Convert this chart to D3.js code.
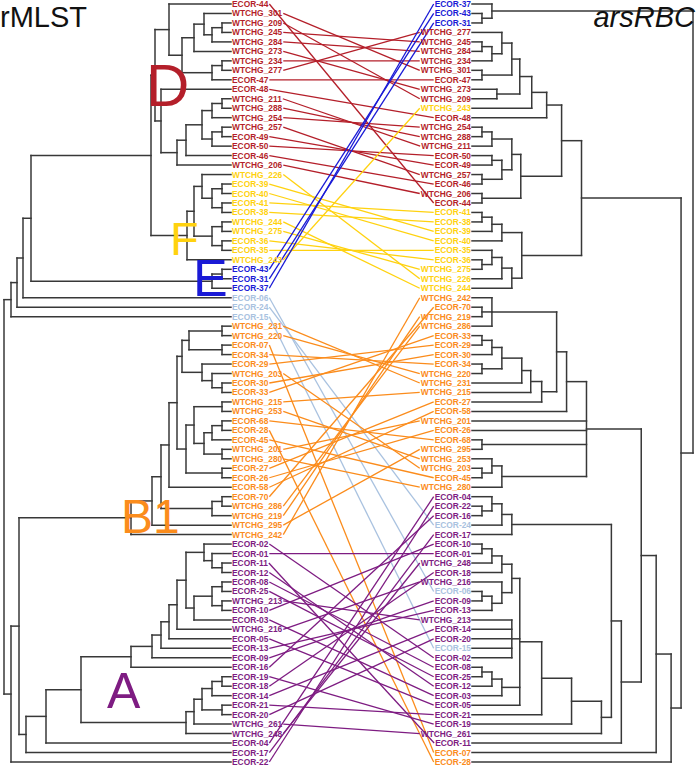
<!DOCTYPE html>
<html><head><meta charset="utf-8">
<script src="https://cdn.jsdelivr.net/npm/d3@7"></script>
<style>body{margin:0;background:#fff}</style>
</head><body>
<svg id="c" width="696" height="769"></svg>
<script>
// ---------- DATA ----------
const leftOrder = ["ECOR-44","WTCHG_301","WTCHG_209","WTCHG_245","WTCHG_284","WTCHG_273","WTCHG_234","WTCHG_277","ECOR-47","ECOR-48","WTCHG_211","WTCHG_288","WTCHG_254","WTCHG_257","ECOR-49","ECOR-50","ECOR-46","WTCHG_206","WTCHG_226","ECOR-39","ECOR-40","ECOR-41","ECOR-38","WTCHG_244","WTCHG_275","ECOR-36","ECOR-35","WTCHG_243","ECOR-43","ECOR-31","ECOR-37","ECOR-06","ECOR-24","ECOR-15","WTCHG_231","WTCHG_220","ECOR-07","ECOR-34","ECOR-29","WTCHG_203","ECOR-30","ECOR-33","WTCHG_215","WTCHG_253","ECOR-68","ECOR-28","ECOR-45","WTCHG_201","WTCHG_280","ECOR-27","ECOR-26","ECOR-58","ECOR-70","WTCHG_286","WTCHG_219","WTCHG_295","WTCHG_242","ECOR-02","ECOR-01","ECOR-11","ECOR-12","ECOR-08","ECOR-25","WTCHG_213","ECOR-10","ECOR-03","WTCHG_216","ECOR-05","ECOR-13","ECOR-09","ECOR-16","ECOR-19","ECOR-18","ECOR-14","ECOR-21","ECOR-20","WTCHG_261","WTCHG_248","ECOR-04","ECOR-17","ECOR-22"];
const rightOrder = ["ECOR-37","ECOR-43","ECOR-31","WTCHG_277","WTCHG_245","WTCHG_284","WTCHG_234","WTCHG_301","ECOR-47","WTCHG_273","WTCHG_209","WTCHG_243","ECOR-48","WTCHG_254","WTCHG_288","WTCHG_211","ECOR-50","ECOR-49","WTCHG_257","ECOR-46","WTCHG_206","ECOR-44","ECOR-41","ECOR-38","ECOR-39","ECOR-40","ECOR-35","ECOR-36","WTCHG_275","WTCHG_226","WTCHG_244","WTCHG_242","ECOR-70","WTCHG_219","WTCHG_286","ECOR-33","ECOR-29","ECOR-30","ECOR-34","WTCHG_220","WTCHG_231","WTCHG_215","ECOR-27","ECOR-58","WTCHG_201","ECOR-26","ECOR-68","WTCHG_295","WTCHG_253","WTCHG_203","ECOR-45","WTCHG_280","ECOR-04","ECOR-22","ECOR-16","ECOR-24","ECOR-17","ECOR-10","ECOR-01","WTCHG_248","ECOR-18","WTCHG_216","ECOR-06","ECOR-09","ECOR-13","WTCHG_213","ECOR-14","ECOR-20","ECOR-15","ECOR-02","ECOR-08","ECOR-25","ECOR-12","ECOR-03","ECOR-05","ECOR-21","ECOR-19","WTCHG_261","ECOR-11","ECOR-07","ECOR-28"];

const cladeD = ["ECOR-44","WTCHG_301","WTCHG_209","WTCHG_245","WTCHG_284","WTCHG_273","WTCHG_234","WTCHG_277","ECOR-47","ECOR-48","WTCHG_211","WTCHG_288","WTCHG_254","WTCHG_257","ECOR-49","ECOR-50","ECOR-46","WTCHG_206"];
const cladeF = ["WTCHG_226","ECOR-39","ECOR-40","ECOR-41","ECOR-38","WTCHG_244","WTCHG_275","ECOR-36","ECOR-35","WTCHG_243"];
const cladeE = ["ECOR-43","ECOR-31","ECOR-37"];
const cladeOther = ["ECOR-06","ECOR-24","ECOR-15"];
const cladeB1 = ["WTCHG_231","WTCHG_220","ECOR-07","ECOR-34","ECOR-29","WTCHG_203","ECOR-30","ECOR-33","WTCHG_215","WTCHG_253","ECOR-68","ECOR-28","ECOR-45","WTCHG_201","WTCHG_280","ECOR-27","ECOR-26","ECOR-58","ECOR-70","WTCHG_286","WTCHG_219","WTCHG_295","WTCHG_242"];
const cladeA = ["ECOR-02","ECOR-01","ECOR-11","ECOR-12","ECOR-08","ECOR-25","WTCHG_213","ECOR-10","ECOR-03","WTCHG_216","ECOR-05","ECOR-13","ECOR-09","ECOR-16","ECOR-19","ECOR-18","ECOR-14","ECOR-21","ECOR-20","WTCHG_261","WTCHG_248","ECOR-04","ECOR-17","ECOR-22"];
const cladeNames = ["D","F","E","other","B1","A"];
const cladeColors = ["#b41f2a","#ffd20f","#1a1ad6","#a9c2e0","#fb8c1c","#7e1c82"];

// Left tree (rMLST): node heights measured from the aligned tips
const L_Dtop = "(ECOR-44,(((WTCHG_301,((WTCHG_209,WTCHG_245):9,WTCHG_284):19):27,WTCHG_273):37,((WTCHG_234,WTCHG_277):9,ECOR-47):19):49):62";
const L_Dbot = "(ECOR-48,(((((WTCHG_211,WTCHG_288):9,WTCHG_254):19,((WTCHG_257,ECOR-49):9,ECOR-50):19):29,ECOR-46):45,WTCHG_206):54):70";
const L_Ftop = "(WTCHG_226,((ECOR-39,ECOR-40):9,(ECOR-41,ECOR-38):9):19):29";
const L_Fbot = "((WTCHG_244,WTCHG_275):9,(ECOR-36,ECOR-35):9):19";
const L_E = "((ECOR-43,ECOR-31):9,ECOR-37):19";
const L_B1top = "(((WTCHG_231,WTCHG_220):9,(ECOR-07,ECOR-34):9):42,(ECOR-29,(WTCHG_203,(ECOR-30,ECOR-33):9):19):29):49";
const L_B1mid = "(((WTCHG_215,WTCHG_253):9,(((ECOR-68,ECOR-28):9,ECOR-45):19,(WTCHG_201,WTCHG_280):9):27):37,(ECOR-27,ECOR-26):9):45";
const L_B1low = "((ECOR-70,WTCHG_286):9,WTCHG_219):19";
const L_A1 = "(ECOR-02,(ECOR-01,(ECOR-11,ECOR-12):9):19):27";
const L_A2 = "(((ECOR-08,ECOR-25):9,(WTCHG_213,ECOR-10):9):19,ECOR-03):37";
const L_Alow = "(((((ECOR-19,ECOR-18):9,ECOR-14):19,(ECOR-21,ECOR-20):9):29,WTCHG_261):37,WTCHG_248):45";

// Right tree (arsRBC)
const R_E = "(ECOR-37,(ECOR-43,ECOR-31):10):20";
const R_Dtop = "((((WTCHG_277,((WTCHG_245,WTCHG_284):10,WTCHG_234):20):30,(WTCHG_301,ECOR-47):10):40,(WTCHG_273,WTCHG_209):25):48,WTCHG_243):60";
const R_Dbot = "((((WTCHG_254,WTCHG_288):10,WTCHG_211):20,((ECOR-50,ECOR-49):20,(WTCHG_257,ECOR-46):10):30):40,(WTCHG_206,ECOR-44):10):49";
const R_F = "((((ECOR-41,ECOR-38):10,ECOR-39):20,ECOR-40):30,(((ECOR-35,(ECOR-36,WTCHG_275):10):20,WTCHG_226):30,WTCHG_244):40):50";
const R_B1a = "(WTCHG_242,(ECOR-70,WTCHG_219):10,WTCHG_286):20";
const R_B1b = "((((((ECOR-33,ECOR-29):10,ECOR-30):20,(ECOR-34,WTCHG_220):10):30,WTCHG_231):50,WTCHG_215):59,ECOR-27):70";
const R_B1c = "((WTCHG_253,(WTCHG_203,ECOR-45):10):20,WTCHG_280):30";
const R_Aout = "(((ECOR-04,(ECOR-22,ECOR-16):10):20,ECOR-24):30,ECOR-17):40";
const R_A1 = "((((ECOR-10,ECOR-01):10,WTCHG_248):20,ECOR-18):30,(WTCHG_216,((ECOR-06,ECOR-09):10,ECOR-13):20):30):40";
const R_Astar = "(WTCHG_213,ECOR-14,ECOR-20,ECOR-15,ECOR-02):40";
const R_A3 = "(((ECOR-08,ECOR-25):10,ECOR-12):20,ECOR-03):30";

// ---------- assemble trees ----------
const L_D = "(" + L_Dtop + "," + L_Dbot + "):76";
const L_F = "((" + L_Ftop + "," + L_Fbot + "):37,WTCHG_243):44";
const L_DFE = "((" + L_D + "," + L_F + "):80," + L_E + "):200";
const L_upper = "(((" + L_DFE + ",ECOR-06):208,ECOR-24):214,ECOR-15):220";
const L_B1 = "((((" + "(" + L_B1top + "," + L_B1mid + "):54" + ",ECOR-58):62," + L_B1low + "):70,WTCHG_295):79,WTCHG_242):100";
const L_Amain = "((((((" + L_A1 + "," + L_A2 + "):45,WTCHG_216):54,ECOR-05):62,ECOR-13):70,ECOR-09):79,ECOR-16):100";
const L_A = "(((" + L_Amain + "," + L_Alow + "):150,ECOR-04):185,ECOR-17):205";
const L_lower = "((" + L_B1 + "," + L_A + "):212,ECOR-22):220";
const leftNewick = "(" + L_upper + "," + L_lower + "):227";

const R_D = "((" + R_Dtop + ",ECOR-48):75," + R_Dbot + "):90";
const R_DF = "(" + R_D + "," + R_F + "):110";
const R_B1 = "(((" + R_B1a + "," + R_B1b + "):85,ECOR-58):95,WTCHG_201,ECOR-26,(ECOR-68,WTCHG_295):10," + R_B1c + "):115";
const R_Amain = "(" + R_A1 + "," + R_Astar + "," + R_A3 + ",ECOR-05):48";
const R_Aall = "((" + R_Aout + ",(((" + R_Amain + ",ECOR-21):70,ECOR-19):100,WTCHG_261):130):140,ECOR-11):150";
const R_lower = "(((" + R_B1 + "," + R_Aall + "):170,ECOR-07):185,ECOR-28):200";
const rightNewick = "(" + R_E + ",(" + R_DF + "," + R_lower + "):210):222";

// ---------- helpers ----------
function parseNewick(str){
  const s = str.replace(/\s+/g,"");
  let i = 0;
  function node(){
    if (s[i] === "("){
      i++;
      const children = [node()];
      while (s[i] === ","){ i++; children.push(node()); }
      i++; // ')'
      let h = 0;
      if (s[i] === ":"){ i++; const st = i; while (i < s.length && /[0-9.]/.test(s[i])) i++; h = +s.slice(st,i); }
      return {children, h};
    }
    const st = i;
    while (i < s.length && !/[,():]/.test(s[i])) i++;
    return {name: s.slice(st,i), h: 0};
  }
  return node();
}

const cladeOf = {};
[cladeD,cladeF,cladeE,cladeOther,cladeB1,cladeA].forEach((arr,k)=>arr.forEach(n=>cladeOf[n]=k));
const colorScale = d3.scaleOrdinal().domain(d3.range(cladeNames.length)).range(cladeColors);
const colorOf = n => colorScale(cladeOf[n]);

const svg = d3.select("#c");
const yL = d3.scalePoint().domain(leftOrder).range([4, 762]);
const yR = d3.scalePoint().domain(rightOrder).range([4, 762]);
const xL = d3.scaleLinear().domain([0, 227]).range([231, 4]);
const xR = d3.scaleLinear().domain([0, 223]).range([472, 694]);

function drawTree(root, xs, ys, g){
  const h = d3.hierarchy(root, d => d.children);
  h.eachAfter(n => {
    if (!n.children) n.yy = ys(n.data.name);
    else {
      const yv = n.children.map(c => c.yy);
      n.yy = (d3.min(yv) + d3.max(yv)) / 2;
    }
  });
  const segs = [];
  h.each(n => {
    if (n.children){
      const yv = n.children.map(c => c.yy);
      segs.push([xs(n.data.h), d3.min(yv), xs(n.data.h), d3.max(yv)]);
      n.children.forEach(c => segs.push([xs(n.data.h), c.yy, xs(c.data.h), c.yy]));
    }
  });
  g.selectAll("line").data(segs).join("line")
    .attr("x1", d=>d[0]).attr("y1", d=>d[1]).attr("x2", d=>d[2]).attr("y2", d=>d[3])
    .attr("stroke", "#383838").attr("stroke-width", 1.5).attr("stroke-linecap","square");
}

const gTreeL = svg.append("g");
const gTreeR = svg.append("g");
drawTree(parseNewick(leftNewick), xL, yL, gTreeL);
drawTree(parseNewick(rightNewick), xR, yR, gTreeR);

const font = "'Liberation Sans', Arial, sans-serif";
const labL = svg.append("g").selectAll("text").data(leftOrder).join("text")
  .attr("x", 232).attr("y", d => yL(d)).attr("dy","0.36em")
  .attr("font-family", font).attr("font-size", 8.4).attr("font-weight","bold")
  .attr("fill", d => colorOf(d)).text(d => d);
const labR = svg.append("g").selectAll("text").data(rightOrder).join("text")
  .attr("x", 471).attr("y", d => yR(d)).attr("dy","0.36em").attr("text-anchor","end")
  .attr("font-family", font).attr("font-size", 8.4).attr("font-weight","bold")
  .attr("fill", d => colorOf(d)).text(d => d);

const wL = {}, wR = {};
labL.each(function(d){ wL[d] = this.getComputedTextLength(); });
labR.each(function(d){ wR[d] = this.getComputedTextLength(); });

svg.insert("g", "g").selectAll("line").data(leftOrder).join("line")
  .attr("x1", d => 232 + wL[d] + 1).attr("y1", d => yL(d))
  .attr("x2", d => 471 - wR[d] - 1).attr("y2", d => yR(d))
  .attr("stroke", d => colorOf(d)).attr("stroke-width", 1.3);

// titles
svg.append("text").attr("x", 0).attr("y", 27).attr("font-family", font).attr("font-size", 29).attr("fill","#111").text("rMLST");
svg.append("text").attr("x", 695).attr("y", 27).attr("text-anchor","end").attr("font-family", font).attr("font-size", 29).attr("font-style","italic").attr("fill","#111").text("arsRBC");

// clade letters
const letters = [
  {t:"D", k:0, x:146, y:106, s:60},
  {t:"F", k:1, x:170, y:255, s:47},
  {t:"E", k:2, x:193, y:296, s:52},
  {t:"B1", k:4, x:121, y:533, s:48},
  {t:"A", k:5, x:107, y:708, s:50}
];
svg.append("g").selectAll("text").data(letters).join("text")
  .attr("x", d=>d.x).attr("y", d=>d.y).attr("font-family", font).attr("font-size", d=>d.s)
  .attr("fill", d=>cladeColors[d.k]).text(d=>d.t);
</script>
</body></html>
